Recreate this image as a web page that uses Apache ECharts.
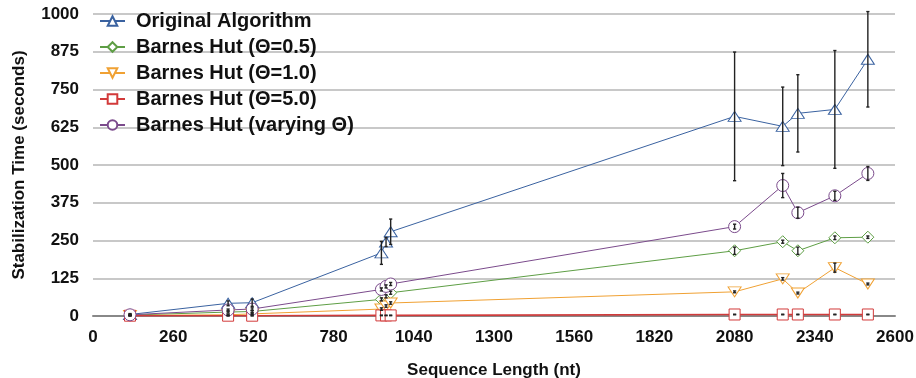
<!DOCTYPE html>
<html><head><meta charset="utf-8">
<script src="https://cdn.jsdelivr.net/npm/echarts@6/dist/echarts.min.js"></script>
<style>html,body{margin:0;padding:0;background:#fff}#c{width:916px;height:378px}</style>
</head><body><div id="c"></div>
<script>
const seqLen = [120, 438, 516, 935, 950, 965, 2080, 2236, 2285, 2405, 2512];
const xTicks = [0, 260, 520, 780, 1040, 1300, 1560, 1820, 2080, 2340, 2600];
const yTicks = [0, 125, 250, 375, 500, 625, 750, 875, 1000];

const origVals   = [5, 42, 44, 209, 245, 279, 661, 628, 671, 684, 850];
const origErr    = [3, 8, 12, 38, 15, 42, 213, 130, 128, 195, 158];
const bh05Vals   = [3, 13, 15, 55, 65, 77, 216, 246, 216, 259, 261];
const bh05Err    = [2, 3, 3, 5, 5, 5, 12, 5, 12, 6, 4];
const bh10Vals   = [2, 4, 7, 23, 33, 43, 80, 123, 76, 160, 106];
const bh10Err    = [1, 2, 2, 4, 4, 4, 3, 4, 3, 15, 3];
const bh50Vals   = [1, 1, 1, 2, 2, 2, 5, 5, 5, 5, 5];
const bh50Err    = [1, 1, 1, 1, 1, 1, 1, 1, 1, 1, 1];
const varVals    = [4, 20, 23, 88, 98, 106, 296, 432, 342, 398, 472];
const varErr     = [2, 3, 4, 5, 5, 5, 8, 40, 18, 15, 23];

const seriesDefs = [
  {name:'Original Algorithm', vals:origVals, err:origErr, color:'#3a62a0', symbol:'triangle', size:[13,10], rot:0},
  {name:'Barnes Hut (Θ=0.5)', vals:bh05Vals, err:bh05Err, color:'#5e9e45', symbol:'diamond', size:[12,12], rot:0},
  {name:'Barnes Hut (Θ=1.0)', vals:bh10Vals, err:bh10Err, color:'#f0a133', symbol:'triangle', size:[13,10], rot:180},
  {name:'Barnes Hut (Θ=5.0)', vals:bh50Vals, err:bh50Err, color:'#d23a3a', symbol:'rect', size:[11,11], rot:0},
  {name:'Barnes Hut (varying Θ)', vals:varVals, err:varErr, color:'#7b4b8c', symbol:'circle', size:[12,12], rot:0}
];

const series = [];
seriesDefs.forEach(d => {
  series.push({
    name: d.name, type: 'line',
    data: seqLen.map((x, i) => [x, d.vals[i]]),
    symbol: d.symbol, symbolSize: d.size, symbolRotate: d.rot,
    showAllSymbol: true,
    lineStyle: {color: d.color, width: d.name.indexOf('5.0') > 0 ? 1.6 : 1},
    itemStyle: {color: '#fff', borderColor: d.color, borderWidth: 1},
    emphasis: {disabled: true},
    z: 3
  });
});
seriesDefs.forEach(d => {
  series.push({
    type: 'custom',
    data: seqLen.map((x, i) => [x, d.vals[i] - d.err[i], d.vals[i] + d.err[i]]),
    clip: false,
    z: 5,
    silent: true,
    encode: {x: 0, y: [1, 2]},
    renderItem: function (params, api) {
      const lo = api.coord([api.value(0), api.value(1)]);
      const hi = api.coord([api.value(0), api.value(2)]);
      const cw = 1.6;
      const st = {stroke: '#222', lineWidth: 1.4};
      return {type: 'group', children: [
        {type: 'line', shape: {x1: lo[0], y1: lo[1], x2: hi[0], y2: hi[1]}, style: st},
        {type: 'line', shape: {x1: lo[0]-cw, y1: lo[1], x2: lo[0]+cw, y2: lo[1]}, style: st},
        {type: 'line', shape: {x1: hi[0]-cw, y1: hi[1], x2: hi[0]+cw, y2: hi[1]}, style: st}
      ]};
    }
  });
});

const font = 'Liberation Sans, Arial, Helvetica, sans-serif';
const chart = echarts.init(document.getElementById('c'), null, {renderer: 'canvas'});
chart.setOption({
  animation: false,
  backgroundColor: '#fff',
  grid: {left: 93, right: 21, top: 14, bottom: 62, containLabel: false, outerBoundsMode: 'none'},
  legend: {
    data: seriesDefs.map(d => d.name),
    orient: 'vertical', left: 94, top: 6,
    itemWidth: 25, itemHeight: 12, itemGap: 6,
    textStyle: {fontFamily: font, fontWeight: 'bold', fontSize: 20, color: '#111', padding: [0, 0, 0, 6]},
    selectedMode: false
  },
  xAxis: {
    type: 'value', min: 0, max: 2600, interval: 260,
    name: 'Sequence Length (nt)', nameLocation: 'middle', nameGap: 46,
    nameTextStyle: {fontFamily: font, fontWeight: 'bold', fontSize: 17, color: '#111'},
    axisLine: {show: true, onZero: true, lineStyle: {color: '#888', width: 2}},
    axisTick: {show: false},
    splitLine: {show: false},
    axisLabel: {fontFamily: font, fontWeight: 'bold', fontSize: 17, color: '#111', margin: 13,
      formatter: v => xTicks.indexOf(v) >= 0 ? String(v) : ''}
  },
  yAxis: {
    type: 'value', min: 0, max: 1000, interval: 125,
    name: 'Stabilization Time (seconds)', nameLocation: 'middle', nameGap: 65,
    nameTextStyle: {fontFamily: font, fontWeight: 'bold', fontSize: 17, color: '#111'},
    axisLine: {show: false}, axisTick: {show: false},
    splitLine: {show: true, lineStyle: {color: '#b6b6b6', width: 1.5}},
    axisLabel: {fontFamily: font, fontWeight: 'bold', fontSize: 17, color: '#111', margin: 14,
      formatter: v => yTicks.indexOf(v) >= 0 ? String(v) : ''}
  },
  series: series
});
</script></body></html>
